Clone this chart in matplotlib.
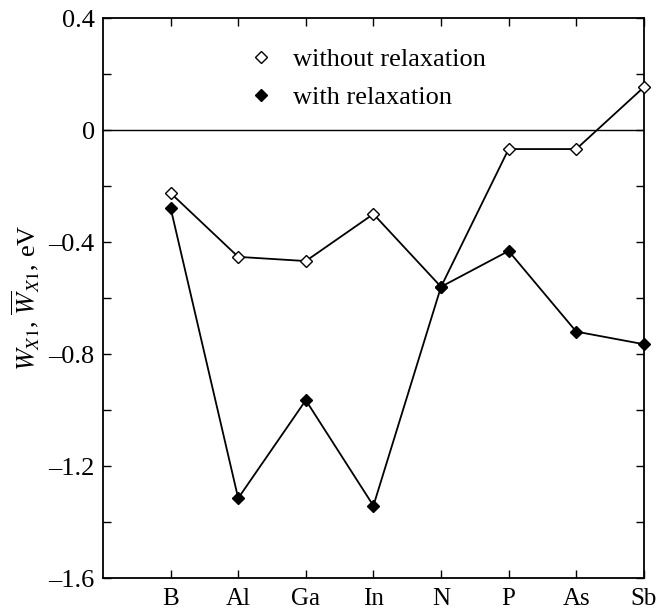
import matplotlib
matplotlib.use("Agg")
import matplotlib.pyplot as plt
from matplotlib.ticker import MultipleLocator

plt.rcParams["font.family"] = ["Liberation Serif", "DejaVu Serif"]
plt.rcParams["mathtext.fontset"] = "stix"

# =========================
# Data
# =========================
elements = ["B", "Al", "Ga", "In", "N", "P", "As", "Sb"]
without_relax = [-0.225, -0.453, -0.468, -0.30, -0.56, -0.068, -0.068, 0.153]
with_relax = [-0.278, -1.315, -0.965, -1.342, -0.56, -0.432, -0.72, -0.765]

x = list(range(1, len(elements) + 1))

fig = plt.figure(figsize=(6.58, 6.11), dpi=100)
ax = fig.add_axes([0.1565, 0.054, 0.822, 0.9165])

ax.axhline(0, color="black", lw=1.0, zorder=1)

ax.plot(x, without_relax, color="black", lw=1.3, marker="D", ms=6.5,
        mfc="white", mec="black", mew=1.0, label="without relaxation",
        zorder=3, clip_on=False)
ax.plot(x, with_relax, color="black", lw=1.3, marker="D", ms=6.5,
        mfc="black", mec="black", label="with relaxation",
        zorder=3, clip_on=False)

ax.set_xlim(0, 8)
ax.set_ylim(-1.6, 0.4)
ax.set_xticks(x)
ax.set_xticklabels(elements)
ax.yaxis.set_major_locator(MultipleLocator(0.4))
ax.yaxis.set_minor_locator(MultipleLocator(0.2))
ax.set_yticklabels([f"{v:.1f}".replace("-", "\u2013") if abs(v) > 1e-9 else "0"
                    for v in ax.get_yticks()])

ax.tick_params(axis="both", which="both", direction="in", top=True,
               right=True, length=6, width=1.0, labelsize=19)
ax.tick_params(axis="x", pad=7, labelsize=18)
ax.tick_params(axis="y", pad=6)

for sp in ax.spines.values():
    sp.set_linewidth(1.3)

ax.set_ylabel(r"$W_{X1}$, $\overline{W}_{X1}$, eV", fontsize=19, labelpad=5)

# legend shows only the markers, no line piece
ax.legend(loc="upper center", bbox_to_anchor=(0.5, 0.99), frameon=False,
          fontsize=19, handlelength=0, handletextpad=1.2, labelspacing=0.55,
          markerscale=1.0)

fig.savefig("out.png", dpi=100)
